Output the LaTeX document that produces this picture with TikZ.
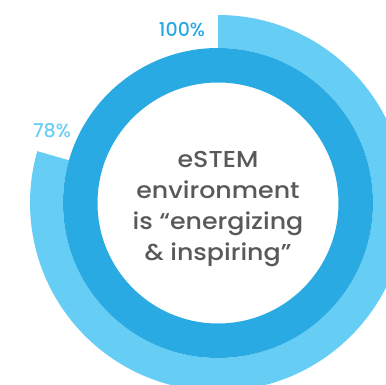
\documentclass[tikz,border=0pt]{standalone}
\usepackage{fontspec}
\setmainfont{Poppins Medium}
\newfontfamily\widefont{Poppins Medium}[FakeStretch=1.1]
\usetikzlibrary{calc}
\definecolor{lightring}{HTML}{66CEF5}
\definecolor{darkring}{HTML}{29AAE2}
\definecolor{labdark}{HTML}{29A9E1}
\definecolor{lablight}{HTML}{66CEF5}
\definecolor{txtgray}{HTML}{58595B}
\begin{document}
\begin{tikzpicture}[x=1pt,y=1pt,
  pct/.style={font=\fontsize{19}{19}\selectfont, inner sep=0pt},
  centertext/.style={font=\widefont\fontsize{23}{31}\selectfont, text=txtgray, align=center, inner sep=0pt}]
\useasboundingbox (0,0) rectangle (386,385);
\clip (0,0) rectangle (386,385);
\coordinate (c) at (218,182);
% outer light ring (78%)
\fill[lightring] ($(c)+(90:188)$) arc[start angle=90, end angle=-196, radius=188]
  -- ($(c)+(-196:155)$) arc[start angle=-196, end angle=90, radius=155] -- cycle;
% inner dark ring (100%)
\fill[darkring, even odd rule] (c) circle[radius=155] (c) circle[radius=120.5];
\node[pct, text=labdark] (p100) at (182,355) {100\%};
\node[pct, text=lablight] (p78) at (52,254) {78\%};
\node[centertext] (txt) at (218,176) {eSTEM\\environment\\is “energizing\\\& inspiring”};
\end{tikzpicture}
\end{document}
